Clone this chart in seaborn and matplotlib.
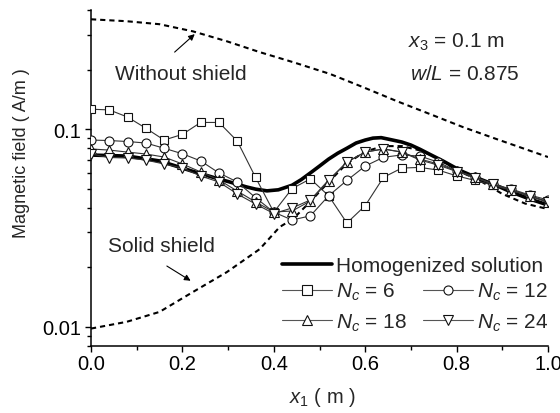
import numpy as np
import pandas as pd
import matplotlib
matplotlib.use("Agg")
import matplotlib.pyplot as plt
import seaborn as sns
from matplotlib.ticker import FixedLocator, FixedFormatter, LogLocator, NullFormatter, MultipleLocator
from matplotlib.lines import Line2D

sns.set_style("ticks")
plt.rcParams['font.family'] = ['Liberation Sans', 'DejaVu Sans']
plt.rcParams['mathtext.fontset'] = 'custom'
plt.rcParams['mathtext.rm'] = 'Liberation Sans'
plt.rcParams['mathtext.it'] = 'Liberation Sans:italic'

# ---------------- data ----------------
x_nc = [0.00, 0.04, 0.08, 0.12, 0.16, 0.20, 0.24, 0.28, 0.32, 0.36, 0.40, 0.44, 0.48,
        0.52, 0.56, 0.60, 0.64, 0.68, 0.72, 0.76, 0.80, 0.84, 0.88, 0.92, 0.96, 1.00]
nc6 = [0.126, 0.125, 0.115, 0.101, 0.088, 0.094, 0.108, 0.108, 0.087, 0.057, 0.038, 0.050, 0.056,
       0.046, 0.0335, 0.041, 0.057, 0.0635, 0.064, 0.062, 0.058, 0.055, 0.052, 0.049, 0.046, 0.043]
nc12 = [0.088, 0.0875, 0.0865, 0.085, 0.080, 0.075, 0.069, 0.060, 0.054, 0.045, 0.038, 0.0347, 0.0364,
        0.046, 0.055, 0.065, 0.072, 0.074, 0.073, 0.068, 0.0614, 0.0572, 0.0527, 0.0497, 0.0464, 0.0438]
nc18 = [0.0793, 0.0783, 0.0765, 0.0748, 0.0722, 0.0666, 0.0607, 0.0553, 0.0486, 0.0428, 0.0381, 0.0385, 0.0433,
        0.0547, 0.0681, 0.0765, 0.0793, 0.0765, 0.0705, 0.0666, 0.0614, 0.0572, 0.0527, 0.0492, 0.0459, 0.0428]
nc24 = [0.0748, 0.0718, 0.0714, 0.0697, 0.0666, 0.0635, 0.0579, 0.054, 0.047, 0.0418, 0.0374, 0.0399, 0.0438,
        0.0553, 0.0681, 0.0765, 0.0793, 0.0765, 0.0697, 0.0657, 0.0610, 0.0568, 0.0525, 0.0490, 0.0457, 0.0426]

x_hom = [0.00, 0.08, 0.15, 0.22, 0.28, 0.30, 0.34, 0.36, 0.385, 0.41, 0.44, 0.46, 0.48, 0.50, 0.52, 0.54,
         0.56, 0.58, 0.60, 0.617, 0.635, 0.65, 0.68, 0.70, 0.72, 0.74, 0.77, 0.81, 0.85, 0.89, 0.92, 0.96, 1.00]
hom = [0.0739, 0.0730, 0.069, 0.0614, 0.0559, 0.0543, 0.0510, 0.0497, 0.0487, 0.0493, 0.052, 0.0555, 0.060,
       0.065, 0.0705, 0.0755, 0.080, 0.085, 0.088, 0.090, 0.0905, 0.089, 0.086, 0.083, 0.079, 0.0748, 0.069,
       0.0614, 0.056, 0.0515, 0.048, 0.0443, 0.0413]

x_without = [0.00, 0.078, 0.15, 0.223, 0.297, 0.369, 0.442, 0.523, 0.595, 0.669, 0.742, 0.814, 0.888, 1.00]
without = [0.359, 0.351, 0.339, 0.312, 0.278, 0.245, 0.218, 0.19, 0.163, 0.1385, 0.119, 0.1023, 0.0889, 0.0722]

x_solid = [0.00, 0.078, 0.15, 0.223, 0.297, 0.369, 0.413, 0.442, 0.48, 0.52, 0.56, 0.60, 0.64, 0.68, 0.72,
           0.76, 0.80, 0.85, 0.90, 0.95, 1.00]
solid = [0.0098, 0.0106, 0.0119, 0.015, 0.0189, 0.0247, 0.032, 0.0351, 0.043, 0.054, 0.067, 0.077, 0.082,
         0.082, 0.078, 0.071, 0.062, 0.055, 0.047, 0.042, 0.0394]

labels_nc = ["$N_c$ = 6", "$N_c$ = 12", "$N_c$ = 18", "$N_c$ = 24"]
markers_nc = ["s", "o", "^", "v"]

# ---------------- figure ----------------
W, H = 560, 414
fig = plt.figure(figsize=(W / 100, H / 100), dpi=100)
ax = fig.add_axes([91 / W, 1 - 347 / H, (548 - 91) / W, (347 - 11) / H])

FS = 15
FS_TICK = 14.5

dash = (0, (2.5, 1.9))
sns.lineplot(x=x_without, y=without, ax=ax, color="black", lw=1.5, linestyle=dash, zorder=2)
sns.lineplot(x=x_solid, y=solid, ax=ax, color="black", lw=1.5, linestyle=dash, zorder=2)
sns.lineplot(x=x_hom, y=hom, ax=ax, color="black", lw=2.6, zorder=3)

series = [nc6, nc12, nc18, nc24]
msizes = [6, 6.5, 7, 7]
for ys, mk, ms in zip(series, markers_nc, msizes):
    sns.lineplot(x=x_nc, y=ys, ax=ax, color="#333333", lw=0.8, marker=mk, markersize=ms,
                 markerfacecolor="white", markeredgecolor="#111111", markeredgewidth=0.8, zorder=4)

ax.set_yscale("log")
ax.set_xlim(0, 1.0)
ax.set_ylim(0.008, 0.4)

ax.yaxis.set_major_locator(FixedLocator([0.01, 0.1]))
ax.yaxis.set_major_formatter(FixedFormatter(["0.01", "0.1"]))
ax.yaxis.set_minor_locator(LogLocator(base=10, subs=[2, 3, 4, 5, 6, 7, 8, 9]))
ax.yaxis.set_minor_formatter(NullFormatter())
ax.xaxis.set_major_locator(MultipleLocator(0.2))
ax.xaxis.set_minor_locator(MultipleLocator(0.1))
ax.xaxis.set_major_formatter(matplotlib.ticker.FormatStrFormatter("%.1f"))

for s in ["top", "right"]:
    ax.spines[s].set_visible(False)
for s in ["left", "bottom"]:
    ax.spines[s].set_linewidth(1.1)
    ax.spines[s].set_color("black")

ax.tick_params(axis="both", which="major", direction="out", length=4.5, width=1.0,
               labelsize=FS_TICK, colors="black")
ax.tick_params(axis="both", which="minor", direction="out", length=2.8, width=1.0, colors="black")
ax.tick_params(axis="x", which="major", pad=1.0)
ax.tick_params(axis="y", which="major", pad=2.5)
ax.set_xlabel("")
ax.set_ylabel("")

# axis labels
fig.text(22 / W, 1 - 153 / H, "Magnetic field ( A/m )", rotation=90, ha="center", va="center", fontsize=13)
fig.text(322 / W, 1 - 398 / H, "$x_1$ ( m )", ha="center", va="center", fontsize=14.5)

# annotations
fig.text(115 / W, 1 - 75 / H, "Without shield", ha="left", va="center", fontsize=FS)
fig.text(108 / W, 1 - 247 / H, "Solid shield", ha="left", va="center", fontsize=FS)
fig.text(408 / W, 1 - 42 / H, "$x_3$ = 0.1 m", ha="left", va="center", fontsize=FS)
fig.text(410 / W, 1 - 75 / H, "$w/L$ = 0.875", ha="left", va="center", fontsize=FS)

arrow = dict(arrowstyle="-|>", color="black", lw=0.8, mutation_scale=9, shrinkA=0, shrinkB=0)
ax.annotate("", xy=(0.227, 0.302), xytext=(0.183, 0.245), arrowprops=arrow)
ax.annotate("", xy=(0.218, 0.0171), xytext=(0.166, 0.0203), arrowprops=arrow)

# legends
h_hom = Line2D([], [], color="black", lw=2.6)
leg1 = fig.legend([h_hom], ["Homogenized solution"], loc="center left",
                  bbox_to_anchor=(282 / W, 1 - 267 / H), frameon=False, fontsize=FS,
                  handlelength=2.4, handletextpad=0.17, borderpad=0, borderaxespad=0)
hs = [Line2D([], [], color="#555555", lw=0.8, marker=m, markersize=6.5, markerfacecolor="white",
             markeredgecolor="#111111", markeredgewidth=0.8) for m in markers_nc]
order = [0, 2, 1, 3]
leg2 = fig.legend([hs[i] for i in order], [labels_nc[i] for i in order], ncol=2, loc="upper left",
                  bbox_to_anchor=(282 / W, 1 - 282 / H), frameon=False, fontsize=FS,
                  handlelength=2.4, handletextpad=0.17, borderpad=0, borderaxespad=0,
                  columnspacing=0.8, labelspacing=0.45)

fig.savefig("out.png", dpi=100)
